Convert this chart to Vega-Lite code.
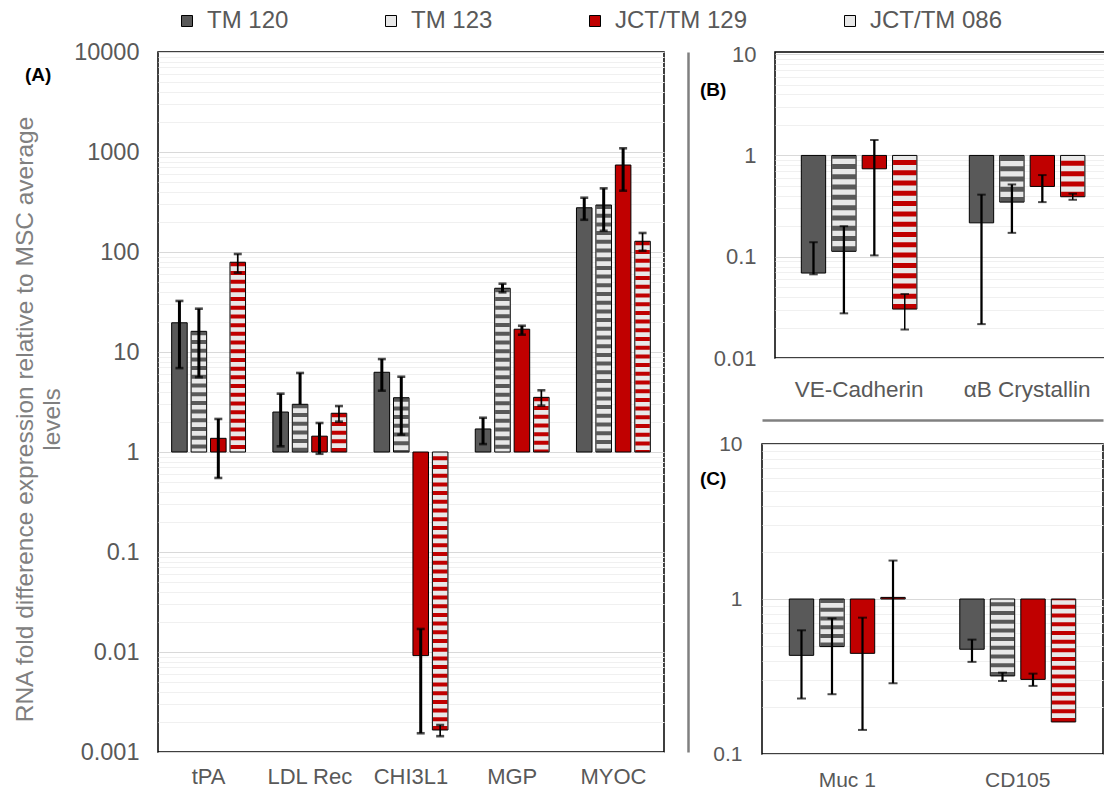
{
"$schema": "https://vega.github.io/schema/vega-lite/v6.json",
"padding": {"left": 11, "top": 9, "right": 0, "bottom": 0},
"datasets": {
"a": [
{"g":"tPA","s":"TM 120","v":19.6,"lo":6.9,"hi":32.4},
{"g":"tPA","s":"TM 123","v":16.1,"lo":5.6,"hi":27.1},
{"g":"tPA","s":"JCT/TM 129","v":1.37,"lo":0.55,"hi":2.14},
{"g":"tPA","s":"JCT/TM 086","v":79,"lo":62,"hi":95.5},
{"g":"LDL Rec","s":"TM 120","v":2.51,"lo":1.14,"hi":3.83},
{"g":"LDL Rec","s":"TM 123","v":3.0,"lo":3.0,"hi":6.17},
{"g":"LDL Rec","s":"JCT/TM 129","v":1.44,"lo":0.96,"hi":1.95},
{"g":"LDL Rec","s":"JCT/TM 086","v":2.44,"lo":2.01,"hi":2.88},
{"g":"CHI3L1","s":"TM 120","v":6.27,"lo":4.1,"hi":8.5},
{"g":"CHI3L1","s":"TM 123","v":3.49,"lo":1.49,"hi":5.66},
{"g":"CHI3L1","s":"JCT/TM 129","v":0.0092,"lo":0.00154,"hi":0.017},
{"g":"CHI3L1","s":"JCT/TM 086","v":0.00166,"lo":0.00144,"hi":0.00186},
{"g":"MGP","s":"TM 120","v":1.7,"lo":1.2,"hi":2.2},
{"g":"MGP","s":"TM 123","v":43.4,"lo":39.5,"hi":48.2},
{"g":"MGP","s":"JCT/TM 129","v":16.9,"lo":14.9,"hi":18.3},
{"g":"MGP","s":"JCT/TM 086","v":3.52,"lo":2.91,"hi":4.14},
{"g":"MYOC","s":"TM 120","v":277,"lo":210,"hi":349},
{"g":"MYOC","s":"TM 123","v":295,"lo":163,"hi":433},
{"g":"MYOC","s":"JCT/TM 129","v":741,"lo":410,"hi":1089},
{"g":"MYOC","s":"JCT/TM 086","v":128,"lo":103,"hi":155}
],
"b": [
{"g":"VE-Cadherin","s":"TM 120","v":0.069,"lo":0.067,"hi":0.139},
{"g":"VE-Cadherin","s":"TM 123","v":0.113,"lo":0.0276,"hi":0.2},
{"g":"VE-Cadherin","s":"JCT/TM 129","v":0.738,"lo":0.103,"hi":1.42},
{"g":"VE-Cadherin","s":"JCT/TM 086","v":0.0304,"lo":0.0191,"hi":0.0428},
{"g":"αB Crystallin","s":"TM 120","v":0.216,"lo":0.0216,"hi":0.41},
{"g":"αB Crystallin","s":"TM 123","v":0.346,"lo":0.172,"hi":0.517},
{"g":"αB Crystallin","s":"JCT/TM 129","v":0.494,"lo":0.346,"hi":0.64},
{"g":"αB Crystallin","s":"JCT/TM 086","v":0.391,"lo":0.365,"hi":0.419}
],
"c": [
{"g":"Muc 1","s":"TM 120","v":0.433,"lo":0.228,"hi":0.628},
{"g":"Muc 1","s":"TM 123","v":0.493,"lo":0.243,"hi":0.75},
{"g":"Muc 1","s":"JCT/TM 129","v":0.446,"lo":0.143,"hi":0.758},
{"g":"Muc 1","s":"JCT/TM 086","v":1.024,"lo":0.286,"hi":1.77},
{"g":"CD105","s":"TM 120","v":0.474,"lo":0.393,"hi":0.547},
{"g":"CD105","s":"TM 123","v":0.319,"lo":0.296,"hi":0.335},
{"g":"CD105","s":"JCT/TM 129","v":0.303,"lo":0.275,"hi":0.33},
{"g":"CD105","s":"JCT/TM 086","v":0.161,"lo":null,"hi":null}
],
"z": [{"k": 0}]
},
"config": {
"font": "Liberation Sans",
"view": {"stroke": "#000", "strokeWidth": 1.5},
"axis": {"ticks": false, "domain": false, "labelColor": "#595959", "labelFont": "Liberation Sans", "titleFont": "Liberation Sans"},
"title": {"font": "Liberation Sans"}
},
"spacing": 3,
"resolve": {"scale": {"xOffset": "independent"}},
"hconcat": [
{
"width": 506, "height": 700,
"data": {"name": "a"},
"title": {"text": "(A)", "anchor": "start", "frame": "group", "fontSize": 19, "fontWeight": "bold", "color": "#000", "offset": 0, "dx": -133, "dy": 45},
"resolve": {"axis": {"x": "independent", "y": "independent"}},
"encoding": {
"x": {"field": "g", "type": "nominal", "sort": ["tPA","LDL Rec","CHI3L1","MGP","MYOC"], "scale": {"paddingInner": 0.27, "paddingOuter": 0.135}, "axis": null},
"xOffset": {"field": "s", "type": "nominal", "sort": ["TM 120","TM 123","JCT/TM 129","JCT/TM 086"], "scale": {"domain": ["TM 120","TM 123","JCT/TM 129","JCT/TM 086"], "paddingInner": 0.2, "paddingOuter": 0}}
},
"layer": [
{"mark": {"type": "bar", "strokeWidth": 0},
"encoding": {
"x": {"field": "g", "type": "nominal", "sort": ["tPA","LDL Rec","CHI3L1","MGP","MYOC"], "scale": {"paddingInner": 0.27, "paddingOuter": 0.135}, "axis": {"title": null, "labelFontSize": 22, "labelPadding": 14, "labelAngle": 0, "grid": false}},
"y": {"field": "v", "type": "quantitative", "scale": {"type": "log", "domain": [0.001, 10000], "nice": false},
"axis": {"values": [0.001,0.002,0.003,0.004,0.005,0.006,0.007,0.008,0.009,0.01,0.02,0.03,0.04,0.05,0.06,0.07,0.08,0.09,0.1,0.2,0.3,0.4,0.5,0.6,0.7,0.8,0.9,1,2,3,4,5,6,7,8,9,10,20,30,40,50,60,70,80,90,100,200,300,400,500,600,700,800,900,1000,2000,3000,4000,5000,6000,7000,8000,9000,10000],
"format": "~g", "labelExpr": "abs(log(datum.value)/LN10 - round(log(datum.value)/LN10)) < 0.001 ? datum.label : ''",
"labelOverlap": false, "labelFlush": false, "labelFontSize": 23.5, "labelPadding": 19,
"grid": true, "gridColor": {"condition": {"test": "abs(log(datum.value)/LN10 - round(log(datum.value)/LN10)) < 0.001", "value": "#d9d9d9"}, "value": "#f0f0f0"}, "gridWidth": 1.2,
"title": ["RNA fold difference expression relative to MSC average", "levels"], "titleFontSize": 24.5, "titleColor": "#808080", "titleFontWeight": "normal", "titlePadding": 9, "titleLineHeight": 27, "titleY": 367}},
"y2": {"datum": 1},
"fill": {"field": "s", "type": "nominal", "scale": {"domain": ["TM 120","TM 123","JCT/TM 129","JCT/TM 086"], "range": ["#595959","#e8e8e8","#c00000","#e8e8e8"]},
"legend": {"title": null, "orient": "none", "legendX": 17, "legendY": -43, "direction": "horizontal", "padding": 0, "symbolType": "square", "symbolSize": 121, "symbolStrokeColor": "#000", "symbolStrokeWidth": 1, "labelFontSize": 24, "labelColor": "#595959", "labelFont": "Liberation Sans", "labelOffset": 8, "columnPadding": 90,
"encode": {"symbols": {"update": {
"fill": [
{"test": "datum.value === 'TM 123'", "value": {"gradient": "linear", "x1": 0, "y1": 1, "x2": 1, "y2": 0, "stops": [{"offset": 0, "color": "#e8e8e8"}, {"offset": 0.17, "color": "#e8e8e8"}, {"offset": 0.17, "color": "#595959"}, {"offset": 0.31, "color": "#595959"}, {"offset": 0.31, "color": "#e8e8e8"}, {"offset": 0.45, "color": "#e8e8e8"}, {"offset": 0.45, "color": "#595959"}, {"offset": 0.59, "color": "#595959"}, {"offset": 0.59, "color": "#e8e8e8"}, {"offset": 0.73, "color": "#e8e8e8"}, {"offset": 0.73, "color": "#595959"}, {"offset": 0.87, "color": "#595959"}, {"offset": 0.87, "color": "#e8e8e8"}, {"offset": 1, "color": "#e8e8e8"}]}},
{"test": "datum.value === 'JCT/TM 086'", "value": {"gradient": "linear", "x1": 0, "y1": 1, "x2": 1, "y2": 0, "stops": [{"offset": 0, "color": "#e8e8e8"}, {"offset": 0.17, "color": "#e8e8e8"}, {"offset": 0.17, "color": "#c00000"}, {"offset": 0.31, "color": "#c00000"}, {"offset": 0.31, "color": "#e8e8e8"}, {"offset": 0.45, "color": "#e8e8e8"}, {"offset": 0.45, "color": "#c00000"}, {"offset": 0.59, "color": "#c00000"}, {"offset": 0.59, "color": "#e8e8e8"}, {"offset": 0.73, "color": "#e8e8e8"}, {"offset": 0.73, "color": "#c00000"}, {"offset": 0.87, "color": "#c00000"}, {"offset": 0.87, "color": "#e8e8e8"}, {"offset": 1, "color": "#e8e8e8"}]}},
{"test": "datum.value === 'TM 120'", "value": "#595959"},
{"value": "#c00000"}
],
"stroke": {"value": "#000"}, "strokeWidth": {"value": 1}, "opacity": {"value": 1}}}}}}
}},
{"transform": [{"filter": "datum.s === 'TM 123' || datum.s === 'JCT/TM 086'"}],
"mark": {"type": "rule", "strokeWidth": 14.5, "strokeDash": [4, 4.7]},
"encoding": {"y": {"field": "v", "type": "quantitative", "axis": null}, "y2": {"datum": 1},
"stroke": {"condition": {"test": "datum.s === 'TM 123'", "value": "#595959"}, "value": "#c00000"}}},
{"mark": {"type": "bar", "fillOpacity": 0, "stroke": "#000", "strokeWidth": 1},
"encoding": {"y": {"field": "v", "type": "quantitative", "axis": null}, "y2": {"datum": 1}}},
{"transform": [{"filter": "datum.hi != null"}],
"mark": {"type": "rule", "color": "#000"},
"encoding": {"y": {"field": "lo", "type": "quantitative", "axis": {"orient": "right", "offset": 24, "labels": false, "ticks": false, "grid": false, "domain": true, "domainColor": "#808080", "domainWidth": 2.5, "title": null}}, "y2": {"field": "hi"},
"strokeWidth": {"condition": {"test": "datum.s === 'JCT/TM 086'", "value": 1.7}, "value": 3}}},
{"transform": [{"filter": "datum.hi != null"}],
"mark": {"type": "tick", "color": "#000", "size": 8, "thickness": 2.6},
"encoding": {"y": {"field": "hi", "type": "quantitative", "axis": null}}},
{"transform": [{"filter": "datum.lo != null && datum.lo < datum.v"}],
"mark": {"type": "tick", "color": "#000", "size": 8, "thickness": 2.6},
"encoding": {"y": {"field": "lo", "type": "quantitative", "axis": null}}}
]
},
{
"spacing": 17,
"resolve": {"scale": {"xOffset": "independent"}},
"vconcat": [
{
"spacing": 0,
"hconcat": [
{"width": 1, "height": 1, "view": {"stroke": null}, "data": {"name": "z"}, "mark": {"type": "point", "opacity": 0}},
{
"width": 335, "height": 306,
"data": {"name": "b"},
"title": {"text": "(B)", "anchor": "start", "frame": "group", "fontSize": 19, "fontWeight": "bold", "color": "#000", "offset": 0, "dx": -75, "dy": 57},
"resolve": {"axis": {"x": "independent", "y": "independent"}},
"encoding": {
"x": {"field": "g", "type": "nominal", "sort": ["VE-Cadherin","αB Crystallin"], "scale": {"paddingInner": 0.312, "paddingOuter": 0.153, "align": 0.512}, "axis": null},
"xOffset": {"field": "s", "type": "nominal", "sort": ["TM 120","TM 123","JCT/TM 129","JCT/TM 086"], "scale": {"domain": ["TM 120","TM 123","JCT/TM 129","JCT/TM 086"], "paddingInner": 0.2, "paddingOuter": 0}}
},
"layer": [
{"mark": {"type": "bar", "strokeWidth": 0},
"encoding": {
"x": {"field": "g", "type": "nominal", "sort": ["VE-Cadherin","αB Crystallin"], "scale": {"paddingInner": 0.312, "paddingOuter": 0.153, "align": 0.512}, "axis": {"title": null, "labelFontSize": 22.5, "labelPadding": 20, "labelAngle": 0, "grid": false}},
"y": {"field": "v", "type": "quantitative", "scale": {"type": "log", "domain": [0.01, 10.5], "nice": false},
"axis": {"values": [0.01,0.02,0.03,0.04,0.05,0.06,0.07,0.08,0.09,0.1,0.2,0.3,0.4,0.5,0.6,0.7,0.8,0.9,1,2,3,4,5,6,7,8,9,10],
"format": "~g", "labelExpr": "abs(log(datum.value)/LN10 - round(log(datum.value)/LN10)) < 0.001 ? datum.label : ''",
"labelOverlap": false, "labelFlush": false, "labelFontSize": 22, "labelPadding": 19,
"grid": true, "gridColor": {"condition": {"test": "abs(log(datum.value)/LN10 - round(log(datum.value)/LN10)) < 0.001", "value": "#d9d9d9"}, "value": "#f0f0f0"}, "gridWidth": 1.2, "title": null}},
"y2": {"datum": 1},
"fill": {"field": "s", "type": "nominal", "scale": {"domain": ["TM 120","TM 123","JCT/TM 129","JCT/TM 086"], "range": ["#595959","#e8e8e8","#c00000","#e8e8e8"]}, "legend": null}
}},
{"transform": [{"filter": "datum.s === 'TM 123' || datum.s === 'JCT/TM 086'"}],
"mark": {"type": "rule", "strokeWidth": 23.3, "strokeDash": [5, 5.3]},
"encoding": {"y": {"field": "v", "type": "quantitative", "axis": null}, "y2": {"datum": 1},
"stroke": {"condition": {"test": "datum.s === 'TM 123'", "value": "#595959"}, "value": "#c00000"}}},
{"mark": {"type": "bar", "fillOpacity": 0, "stroke": "#000", "strokeWidth": 1},
"encoding": {"y": {"field": "v", "type": "quantitative", "axis": null}, "y2": {"datum": 1}}},
{"transform": [{"filter": "datum.hi != null"}],
"mark": {"type": "rule", "color": "#000"},
"encoding": {"y": {"field": "lo", "type": "quantitative", "axis": null}, "y2": {"field": "hi"},
"strokeWidth": {"condition": {"test": "datum.s === 'JCT/TM 086'", "value": 1.5}, "value": 2.3}}},
{"transform": [{"filter": "datum.hi != null"}],
"mark": {"type": "tick", "color": "#000", "size": 8.5, "thickness": 2},
"encoding": {"y": {"field": "hi", "type": "quantitative", "axis": null}}},
{"transform": [{"filter": "datum.lo != null && datum.lo < datum.v"}],
"mark": {"type": "tick", "color": "#000", "size": 8.5, "thickness": 2},
"encoding": {"y": {"field": "lo", "type": "quantitative", "axis": null}}}
]
}
]
},
{
"spacing": 0,
"hconcat": [
{"width": 1, "height": 1, "view": {"stroke": null}, "data": {"name": "z"}, "mark": {"type": "point", "opacity": 0}},
{
"width": 341, "height": 310,
"data": {"name": "c"},
"title": {"text": "(C)", "anchor": "start", "frame": "group", "fontSize": 19, "fontWeight": "bold", "color": "#000", "offset": 0, "dx": -62, "dy": 69},
"resolve": {"axis": {"x": "independent", "y": "independent"}},
"encoding": {
"x": {"field": "g", "type": "nominal", "sort": ["Muc 1","CD105"], "scale": {"paddingInner": 0.32, "paddingOuter": 0.16}, "axis": null},
"xOffset": {"field": "s", "type": "nominal", "sort": ["TM 120","TM 123","JCT/TM 129","JCT/TM 086"], "scale": {"domain": ["TM 120","TM 123","JCT/TM 129","JCT/TM 086"], "paddingInner": 0.2, "paddingOuter": 0}}
},
"layer": [
{"mark": {"type": "bar", "strokeWidth": 0},
"encoding": {
"x": {"field": "g", "type": "nominal", "sort": ["Muc 1","CD105"], "scale": {"paddingInner": 0.32, "paddingOuter": 0.16}, "axis": {"title": null, "labelFontSize": 21, "labelPadding": 15, "labelAngle": 0, "grid": false}},
"y": {"field": "v", "type": "quantitative", "scale": {"type": "log", "domain": [0.1, 10], "nice": false},
"axis": {"values": [0.1,0.2,0.3,0.4,0.5,0.6,0.7,0.8,0.9,1,2,3,4,5,6,7,8,9,10],
"format": "~g", "labelExpr": "abs(log(datum.value)/LN10 - round(log(datum.value)/LN10)) < 0.001 ? datum.label : ''",
"labelOverlap": false, "labelFlush": false, "labelFontSize": 21, "labelPadding": 20,
"grid": true, "gridColor": {"condition": {"test": "abs(log(datum.value)/LN10 - round(log(datum.value)/LN10)) < 0.001", "value": "#d9d9d9"}, "value": "#f0f0f0"}, "gridWidth": 1.2, "title": null}},
"y2": {"datum": 1},
"fill": {"field": "s", "type": "nominal", "scale": {"domain": ["TM 120","TM 123","JCT/TM 129","JCT/TM 086"], "range": ["#595959","#e8e8e8","#c00000","#e8e8e8"]}, "legend": null}
}},
{"transform": [{"filter": "datum.s === 'TM 123' || datum.s === 'JCT/TM 086'"}],
"mark": {"type": "rule", "strokeWidth": 23.3, "strokeDash": [4, 4.7]},
"encoding": {"y": {"field": "v", "type": "quantitative", "axis": null}, "y2": {"datum": 1},
"stroke": {"condition": {"test": "datum.s === 'TM 123'", "value": "#595959"}, "value": "#c00000"}}},
{"mark": {"type": "bar", "fillOpacity": 0, "stroke": "#000", "strokeWidth": 1},
"encoding": {"y": {"field": "v", "type": "quantitative", "axis": null}, "y2": {"datum": 1}}},
{"transform": [{"filter": "datum.hi != null"}],
"mark": {"type": "rule", "color": "#000"},
"encoding": {
"x": {"field": "g", "type": "nominal", "sort": ["Muc 1","CD105"], "axis": {"orient": "top", "offset": 24, "labels": false, "ticks": false, "grid": false, "domain": true, "domainColor": "#808080", "domainWidth": 2.5, "title": null}},
"y": {"field": "lo", "type": "quantitative", "axis": null}, "y2": {"field": "hi"},
"strokeWidth": {"value": 2.2}}},
{"transform": [{"filter": "datum.hi != null"}],
"mark": {"type": "tick", "color": "#000", "size": 9, "thickness": 2},
"encoding": {"y": {"field": "hi", "type": "quantitative", "axis": null}}},
{"transform": [{"filter": "datum.lo != null && datum.lo < datum.v"}],
"mark": {"type": "tick", "color": "#000", "size": 9, "thickness": 2},
"encoding": {"y": {"field": "lo", "type": "quantitative", "axis": null}}}
]
}
]
}
]
}
]
}
